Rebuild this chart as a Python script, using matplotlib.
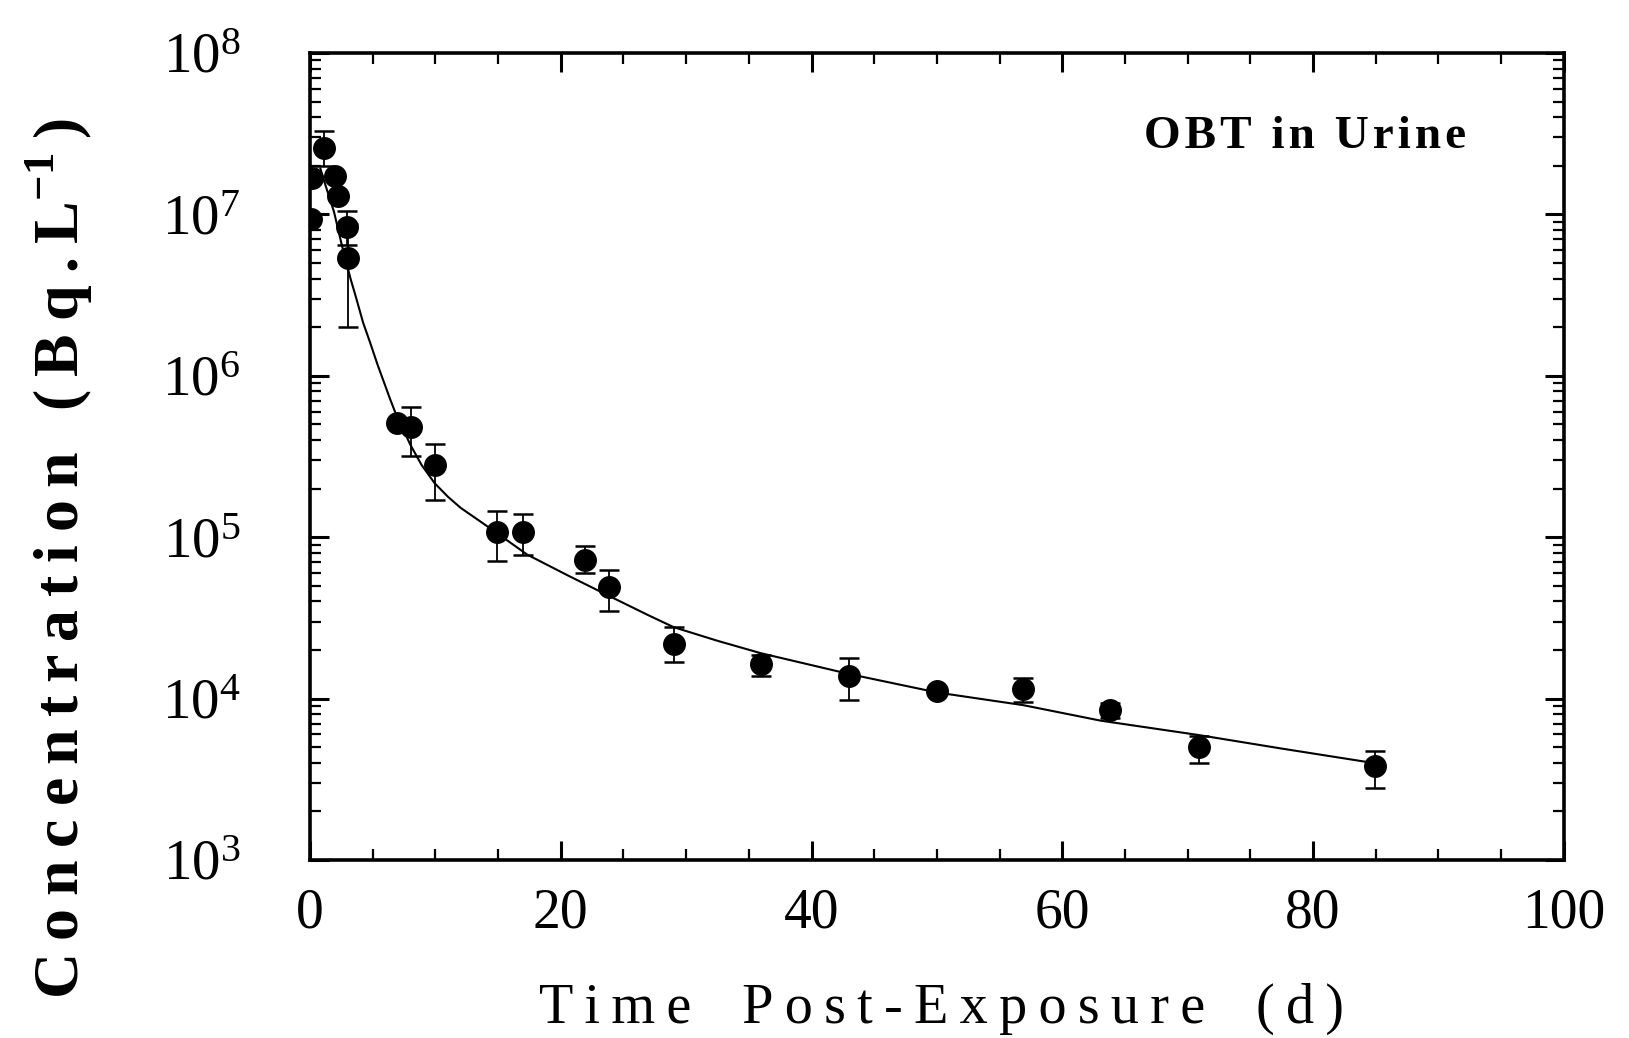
import numpy as np
import matplotlib
matplotlib.use("Agg")
import matplotlib.pyplot as plt
from matplotlib.ticker import FixedLocator, FuncFormatter, LogLocator, NullFormatter

plt.rcParams['font.family'] = ['Liberation Serif', 'DejaVu Serif']
plt.rcParams['mathtext.fontset'] = 'custom'
plt.rcParams['mathtext.rm'] = 'Liberation Serif'
plt.rcParams['mathtext.bf'] = 'Liberation Serif:bold'

days = [0.08, 0.17, 1.08, 2.0, 2.24, 2.98, 3.07, 6.96, 8.04, 9.94, 14.9, 16.98,
        21.96, 23.86, 29.0, 35.96, 43.0, 50.04, 56.9, 63.8, 70.9, 84.9]
conc = [9.4e6, 1.68e7, 2.58e7, 1.73e7, 1.29e7, 8.4e6, 5.37e6, 5.1e5, 4.8e5, 2.79e5,
        1.08e5, 1.08e5, 7.2e4, 4.9e4, 2.18e4, 1.63e4, 1.38e4, 1.12e4, 1.14e4,
        8.5e3, 4.98e3, 3.81e3]
conc_low = [9.4e6, 1.68e7, 2.0e7, 1.73e7, 1.29e7, 6.5e6, 2.0e6, 5.1e5, 3.2e5, 1.71e5,
            7.1e4, 7.7e4, 6.0e4, 3.5e4, 1.68e4, 1.38e4, 9.8e3, 1.12e4, 9.5e3,
            7.6e3, 4.0e3, 2.8e3]
conc_high = [9.4e6, 1.68e7, 3.3e7, 1.73e7, 1.29e7, 1.05e7, 8.7e6, 5.1e5, 6.4e5, 3.8e5,
             1.45e5, 1.39e5, 8.8e4, 6.3e4, 2.77e4, 1.85e4, 1.78e4, 1.12e4, 1.34e4,
             9.4e3, 5.85e3, 4.75e3]

# fitted retention curve
fit_days = [0.83, 1.24, 1.91, 2.57, 3.23, 3.7, 4.23, 4.8, 5.39, 6.38, 6.81, 8.0,
            8.9, 9.94, 11.0, 12.01, 13.4, 14.91, 17.32, 20.55, 23.86, 26.93, 29.0,
            32.5, 35.96, 43.0, 50.04, 56.9, 63.05, 70.9, 77.5, 84.9]
fit_conc = [1.92e7, 1.51e7, 1.04e7, 6.3e6, 4.0e6, 3.0e6, 2.14e6, 1.6e6, 1.17e6,
            7.2e5, 5.9e5, 3.74e5, 2.8e5, 2.16e5, 1.78e5, 1.52e5, 1.28e5, 1.06e5,
            7.8e4, 5.8e4, 4.32e4, 3.30e4, 2.77e4, 2.28e4, 1.91e4, 1.42e4, 1.09e4,
            9.1e3, 7.3e3, 5.94e3, 4.9e3, 3.98e3]

x_ticks = [0, 20, 40, 60, 80, 100]

THIN = '\u2009'
HAIR = '\u200a'

fig = plt.figure(figsize=(16.29, 10.38), dpi=100)
ax = fig.add_axes([0.1903, 0.1715, 0.7697, 0.7775])

c = np.array(conc)
yerr = [c - np.array(conc_low), np.array(conc_high) - c]
ax.errorbar(days, conc, yerr=yerr, fmt='none', ecolor='black', elinewidth=1.3,
            capsize=7, capthick=1.8, zorder=2)
ax.plot(fit_days, fit_conc, color='black', lw=1.5, zorder=2)
ax.plot(days, conc, 'o', color='black', markersize=15.5, zorder=3)

ax.set_yscale('log')
ax.set_xlim(0, 100)
ax.set_ylim(1e3, 1e8)

ax.xaxis.set_major_locator(FixedLocator(x_ticks))
ax.xaxis.set_minor_locator(FixedLocator(np.arange(0, 101, 5)))
ax.yaxis.set_major_locator(LogLocator(base=10, numticks=10))
ax.yaxis.set_minor_locator(LogLocator(base=10, subs=np.arange(2, 10), numticks=20))
ax.yaxis.set_minor_formatter(NullFormatter())
ax.yaxis.set_major_formatter(FuncFormatter(lambda v, p: r'$\mathregular{10^{%d}}$' % round(np.log10(v))))

ax.tick_params(which='both', direction='in', top=True, right=True, colors='black')
ax.tick_params(which='major', length=14, width=2.2)
ax.tick_params(which='minor', length=8, width=1.6)
ax.tick_params(axis='x', which='major', labelsize=40, pad=20)
ax.tick_params(axis='y', which='major', labelsize=41, pad=50)
for s in ax.spines.values():
    s.set_linewidth(2.6)

ax.text(0.7935, 0.882, HAIR.join('OBT in Urine'), transform=ax.transAxes,
        ha='center', va='baseline', fontsize=34, fontweight='bold')

fig.text(0.578, 0.0145, THIN.join('Time Post-Exposure (d)').replace(' ', '  '),
         ha='center', va='baseline', fontsize=40.5)
fig.text(0.036, 0.462, THIN.join('Concentration (Bq.L') + r'$^{\mathbf{-1}}$' + THIN + ')',
         rotation=90, ha='center', va='center', fontsize=46, fontweight='bold')

fig.savefig('out.png', dpi=100, facecolor='white')
